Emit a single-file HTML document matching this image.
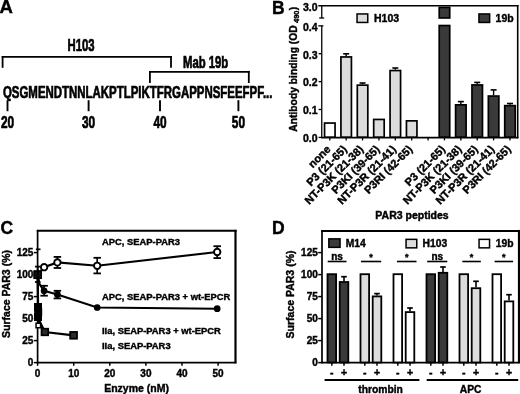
<!DOCTYPE html>
<html><head><meta charset="utf-8"><style>
html,body{margin:0;padding:0;background:#fff;}
svg{display:block;will-change:transform;}
text{font-family:"Liberation Sans",sans-serif;font-weight:bold;fill:#000;stroke:#000;stroke-width:0.4px;}
</style></head><body>
<svg width="520" height="394" viewBox="0 0 520 394">
<rect width="520" height="394" fill="#fff"/>
<text x="-0.6" y="12.6" font-size="18.5" text-anchor="start" >A</text>
<text x="2.95" y="97.6" font-size="16.5" text-anchor="start" textLength="269.5" lengthAdjust="spacingAndGlyphs" style="stroke-width:0.7px">QSGMENDTNNLAKPTLPIKTFRGAPPNSFEEFPF...</text>
<line x1="1.7" y1="56.9" x2="171.9" y2="56.9" stroke="#000" stroke-width="1.8"/>
<line x1="2.6" y1="56.0" x2="2.6" y2="67.8" stroke="#000" stroke-width="1.8"/>
<line x1="171.0" y1="56.0" x2="171.0" y2="67.8" stroke="#000" stroke-width="1.8"/>
<text x="67.6" y="50.9" font-size="16.4" text-anchor="start" textLength="27.0" lengthAdjust="spacingAndGlyphs" style="stroke-width:0.7px">H103</text>
<line x1="149.0" y1="71.8" x2="249.7" y2="71.8" stroke="#000" stroke-width="1.8"/>
<line x1="149.9" y1="70.9" x2="149.9" y2="83.0" stroke="#000" stroke-width="1.8"/>
<line x1="248.8" y1="70.9" x2="248.8" y2="83.0" stroke="#000" stroke-width="1.8"/>
<text x="183.0" y="68.3" font-size="16.4" text-anchor="start" textLength="45.2" lengthAdjust="spacingAndGlyphs" style="stroke-width:0.7px">Mab 19b</text>
<line x1="7.5" y1="100.2" x2="7.5" y2="111.2" stroke="#000" stroke-width="1.9"/>
<text x="7.5" y="128.0" font-size="16.5" text-anchor="middle" textLength="13.2" lengthAdjust="spacingAndGlyphs" style="stroke-width:0.7px">20</text>
<line x1="88.6" y1="100.2" x2="88.6" y2="111.2" stroke="#000" stroke-width="1.9"/>
<text x="88.6" y="128.0" font-size="16.5" text-anchor="middle" textLength="13.2" lengthAdjust="spacingAndGlyphs" style="stroke-width:0.7px">30</text>
<line x1="160.0" y1="100.2" x2="160.0" y2="111.2" stroke="#000" stroke-width="1.9"/>
<text x="160.0" y="128.0" font-size="16.5" text-anchor="middle" textLength="13.2" lengthAdjust="spacingAndGlyphs" style="stroke-width:0.7px">40</text>
<line x1="238.4" y1="100.2" x2="238.4" y2="111.2" stroke="#000" stroke-width="1.9"/>
<text x="238.4" y="128.0" font-size="16.5" text-anchor="middle" textLength="13.2" lengthAdjust="spacingAndGlyphs" style="stroke-width:0.7px">50</text>
<text x="272.0" y="13.8" font-size="17.5" text-anchor="start" >B</text>
<line x1="321.75" y1="5.85" x2="321.75" y2="18.0" stroke="#000" stroke-width="1.3"/>
<line x1="319.2" y1="18.0" x2="324.2" y2="18.0" stroke="#000" stroke-width="1.3"/>
<line x1="318.3" y1="5.75" x2="518.5" y2="5.75" stroke="#000" stroke-width="1.6"/>
<line x1="321.75" y1="25.85" x2="321.75" y2="138.05" stroke="#000" stroke-width="1.3"/>
<line x1="318.3" y1="25.85" x2="323.4" y2="25.85" stroke="#000" stroke-width="1.3"/>
<line x1="517.7" y1="5.0" x2="517.7" y2="138.3" stroke="#000" stroke-width="1.6"/>
<line x1="321.1" y1="137.6" x2="518.35" y2="137.6" stroke="#000" stroke-width="1.6"/>
<line x1="318.6" y1="53.7" x2="321.75" y2="53.7" stroke="#000" stroke-width="1.3"/>
<line x1="318.6" y1="81.6" x2="321.75" y2="81.6" stroke="#000" stroke-width="1.3"/>
<line x1="318.6" y1="109.5" x2="321.75" y2="109.5" stroke="#000" stroke-width="1.3"/>
<line x1="318.6" y1="137.4" x2="321.75" y2="137.4" stroke="#000" stroke-width="1.3"/>
<text x="317.6" y="10.65" font-size="10.5" text-anchor="end" >3.0</text>
<text x="317.6" y="30.65" font-size="10.5" text-anchor="end" >0.4</text>
<text x="317.6" y="58.5" font-size="10.5" text-anchor="end" >0.3</text>
<text x="317.6" y="86.4" font-size="10.5" text-anchor="end" >0.2</text>
<text x="317.6" y="114.3" font-size="10.5" text-anchor="end" >0.1</text>
<text x="317.6" y="142.2" font-size="10.5" text-anchor="end" >0.0</text>
<rect x="324.55" y="123.05" width="10.50" height="14.10" fill="#fff" stroke="#000" stroke-width="1.7"/>
<line x1="346.18" y1="53.8" x2="346.18" y2="56.1" stroke="#000" stroke-width="1.4"/>
<line x1="343.18" y1="53.8" x2="349.18" y2="53.8" stroke="#000" stroke-width="1.6"/>
<rect x="340.93" y="56.95" width="10.50" height="80.20" fill="#dcdcdc" stroke="#000" stroke-width="1.7"/>
<line x1="362.56" y1="83.0" x2="362.56" y2="84.3" stroke="#000" stroke-width="1.4"/>
<line x1="359.56" y1="83.0" x2="365.56" y2="83.0" stroke="#000" stroke-width="1.6"/>
<rect x="357.31" y="85.15" width="10.50" height="52.00" fill="#dcdcdc" stroke="#000" stroke-width="1.7"/>
<rect x="373.69" y="119.45" width="10.50" height="17.70" fill="#dcdcdc" stroke="#000" stroke-width="1.7"/>
<line x1="395.32" y1="68.0" x2="395.32" y2="69.7" stroke="#000" stroke-width="1.4"/>
<line x1="392.32" y1="68.0" x2="398.32" y2="68.0" stroke="#000" stroke-width="1.6"/>
<rect x="390.07" y="70.55" width="10.50" height="66.60" fill="#dcdcdc" stroke="#000" stroke-width="1.7"/>
<rect x="406.45" y="120.85" width="10.50" height="16.30" fill="#dcdcdc" stroke="#000" stroke-width="1.7"/>
<line x1="460.84000000000003" y1="101.6" x2="460.84000000000003" y2="104.0" stroke="#000" stroke-width="1.4"/>
<line x1="457.84000000000003" y1="101.6" x2="463.84000000000003" y2="101.6" stroke="#000" stroke-width="1.6"/>
<rect x="455.59" y="104.85" width="10.50" height="32.30" fill="#3a3a3a" stroke="#000" stroke-width="1.7"/>
<line x1="477.22" y1="82.4" x2="477.22" y2="84.1" stroke="#000" stroke-width="1.4"/>
<line x1="474.22" y1="82.4" x2="480.22" y2="82.4" stroke="#000" stroke-width="1.6"/>
<rect x="471.97" y="84.95" width="10.50" height="52.20" fill="#3a3a3a" stroke="#000" stroke-width="1.7"/>
<line x1="493.6" y1="89.9" x2="493.6" y2="95.2" stroke="#000" stroke-width="1.4"/>
<line x1="490.6" y1="89.9" x2="496.6" y2="89.9" stroke="#000" stroke-width="1.6"/>
<rect x="488.35" y="96.05" width="10.50" height="41.10" fill="#3a3a3a" stroke="#000" stroke-width="1.7"/>
<line x1="509.98" y1="103.5" x2="509.98" y2="104.8" stroke="#000" stroke-width="1.4"/>
<line x1="506.98" y1="103.5" x2="512.98" y2="103.5" stroke="#000" stroke-width="1.6"/>
<rect x="504.73" y="105.65" width="10.50" height="31.50" fill="#3a3a3a" stroke="#000" stroke-width="1.7"/>
<rect x="439.21" y="7.45" width="10.50" height="10.50" fill="#3a3a3a" stroke="#000" stroke-width="1.7"/>
<rect x="439.21" y="25.55" width="10.50" height="111.60" fill="#3a3a3a" stroke="#000" stroke-width="1.7"/>
<line x1="329.8" y1="137.4" x2="329.8" y2="140.4" stroke="#000" stroke-width="1.3"/>
<line x1="346.18" y1="137.4" x2="346.18" y2="140.4" stroke="#000" stroke-width="1.3"/>
<line x1="362.56" y1="137.4" x2="362.56" y2="140.4" stroke="#000" stroke-width="1.3"/>
<line x1="378.94" y1="137.4" x2="378.94" y2="140.4" stroke="#000" stroke-width="1.3"/>
<line x1="395.32" y1="137.4" x2="395.32" y2="140.4" stroke="#000" stroke-width="1.3"/>
<line x1="411.7" y1="137.4" x2="411.7" y2="140.4" stroke="#000" stroke-width="1.3"/>
<line x1="428.08000000000004" y1="137.4" x2="428.08000000000004" y2="140.4" stroke="#000" stroke-width="1.3"/>
<line x1="444.46000000000004" y1="137.4" x2="444.46000000000004" y2="140.4" stroke="#000" stroke-width="1.3"/>
<line x1="460.84000000000003" y1="137.4" x2="460.84000000000003" y2="140.4" stroke="#000" stroke-width="1.3"/>
<line x1="477.22" y1="137.4" x2="477.22" y2="140.4" stroke="#000" stroke-width="1.3"/>
<line x1="493.6" y1="137.4" x2="493.6" y2="140.4" stroke="#000" stroke-width="1.3"/>
<line x1="509.98" y1="137.4" x2="509.98" y2="140.4" stroke="#000" stroke-width="1.3"/>
<rect x="357.05" y="13.95" width="10.70" height="8.50" fill="#dcdcdc" stroke="#000" stroke-width="1.5"/>
<text x="374.0" y="22.0" font-size="10.5" text-anchor="start" >H103</text>
<rect x="478.95" y="13.95" width="10.70" height="8.50" fill="#3a3a3a" stroke="#000" stroke-width="1.5"/>
<text x="495.6" y="22.0" font-size="10.5" text-anchor="start" >19b</text>
<text transform="translate(296.9,131.7) rotate(-90)" font-size="10.3">Antibody binding (OD<tspan font-size="7.5" dx="2.3" dy="1.6">490</tspan><tspan dx="0.3" dy="-1.6">)</tspan></text>
<text transform="translate(331.3,150.0) rotate(-45)" font-size="11" text-anchor="end" >none</text>
<text transform="translate(347.68,150.0) rotate(-45)" font-size="11" text-anchor="end" >P3 (21-65)</text>
<text transform="translate(364.06,150.0) rotate(-45)" font-size="11" text-anchor="end" >NT-P3K (21-38)</text>
<text transform="translate(380.44,150.0) rotate(-45)" font-size="11" text-anchor="end" >P3KI (39-65)</text>
<text transform="translate(396.82,150.0) rotate(-45)" font-size="11" text-anchor="end" >NT-P3R (21-41)</text>
<text transform="translate(413.2,150.0) rotate(-45)" font-size="11" text-anchor="end" >P3RI (42-65)</text>
<text transform="translate(445.96,150.0) rotate(-45)" font-size="11" text-anchor="end" >P3 (21-65)</text>
<text transform="translate(462.34,150.0) rotate(-45)" font-size="11" text-anchor="end" >NT-P3K (21-38)</text>
<text transform="translate(478.72,150.0) rotate(-45)" font-size="11" text-anchor="end" >P3KI (39-65)</text>
<text transform="translate(495.1,150.0) rotate(-45)" font-size="11" text-anchor="end" >NT-P3R (21-41)</text>
<text transform="translate(511.48,150.0) rotate(-45)" font-size="11" text-anchor="end" >P3RI (42-65)</text>
<text x="412.0" y="218.6" font-size="10.5" text-anchor="middle" >PAR3 peptides</text>
<text x="0.4" y="234.3" font-size="17.5" text-anchor="start" >C</text>
<line x1="37.6" y1="229.9" x2="37.6" y2="363.35" stroke="#000" stroke-width="1.7"/>
<line x1="36.800000000000004" y1="230.85" x2="236.6" y2="230.85" stroke="#000" stroke-width="2.0"/>
<line x1="235.5" y1="229.85" x2="235.5" y2="363.35" stroke="#000" stroke-width="2.2"/>
<line x1="36.800000000000004" y1="362.6" x2="236.3" y2="362.6" stroke="#000" stroke-width="1.7"/>
<line x1="33.8" y1="362.6" x2="37.6" y2="362.6" stroke="#000" stroke-width="1.5"/>
<text x="33.4" y="366.3" font-size="10" text-anchor="end" >0</text>
<line x1="33.8" y1="340.6" x2="37.6" y2="340.6" stroke="#000" stroke-width="1.5"/>
<text x="33.4" y="344.3" font-size="10" text-anchor="end" >25</text>
<line x1="33.8" y1="318.6" x2="37.6" y2="318.6" stroke="#000" stroke-width="1.5"/>
<text x="33.4" y="322.3" font-size="10" text-anchor="end" >50</text>
<line x1="33.8" y1="296.6" x2="37.6" y2="296.6" stroke="#000" stroke-width="1.5"/>
<text x="33.4" y="300.3" font-size="10" text-anchor="end" >75</text>
<line x1="33.8" y1="274.6" x2="37.6" y2="274.6" stroke="#000" stroke-width="1.5"/>
<text x="33.4" y="278.3" font-size="10" text-anchor="end" >100</text>
<line x1="33.8" y1="252.60000000000002" x2="37.6" y2="252.60000000000002" stroke="#000" stroke-width="1.5"/>
<text x="33.4" y="256.3" font-size="10" text-anchor="end" >125</text>
<line x1="37.6" y1="362.6" x2="37.6" y2="365.8" stroke="#000" stroke-width="1.5"/>
<text x="37.6" y="376.8" font-size="10" text-anchor="middle" >0</text>
<line x1="73.7" y1="362.6" x2="73.7" y2="365.8" stroke="#000" stroke-width="1.5"/>
<text x="73.7" y="376.8" font-size="10" text-anchor="middle" >10</text>
<line x1="109.80000000000001" y1="362.6" x2="109.80000000000001" y2="365.8" stroke="#000" stroke-width="1.5"/>
<text x="109.80000000000001" y="376.8" font-size="10" text-anchor="middle" >20</text>
<line x1="145.9" y1="362.6" x2="145.9" y2="365.8" stroke="#000" stroke-width="1.5"/>
<text x="145.9" y="376.8" font-size="10" text-anchor="middle" >30</text>
<line x1="182.0" y1="362.6" x2="182.0" y2="365.8" stroke="#000" stroke-width="1.5"/>
<text x="182.0" y="376.8" font-size="10" text-anchor="middle" >40</text>
<line x1="218.1" y1="362.6" x2="218.1" y2="365.8" stroke="#000" stroke-width="1.5"/>
<text x="218.1" y="376.8" font-size="10" text-anchor="middle" >50</text>
<text x="136.6" y="391.8" font-size="10.5" text-anchor="middle" >Enzyme (nM)</text>
<text transform="translate(10.4,294.0) rotate(-90)" font-size="10.5" text-anchor="middle">Surface PAR3 (%)</text>
<text x="102.0" y="245.0" font-size="9.4" text-anchor="start" >APC, SEAP-PAR3</text>
<text x="102.0" y="299.6" font-size="9.4" text-anchor="start" >APC, SEAP-PAR3 + wt-EPCR</text>
<text x="102.0" y="334.4" font-size="9.4" text-anchor="start" >IIa, SEAP-PAR3 + wt-EPCR</text>
<text x="102.0" y="349.2" font-size="9.4" text-anchor="start" >IIa, SEAP-PAR3</text>
<polyline points="37.70,274.50 44.10,267.20 57.40,262.40 97.20,265.80 217.20,252.00" fill="none" stroke="#000" stroke-width="2.1"/>
<line x1="57.4" y1="256.9" x2="57.4" y2="268.0" stroke="#000" stroke-width="1.7"/>
<line x1="53.65" y1="256.9" x2="61.15" y2="256.9" stroke="#000" stroke-width="1.8"/>
<line x1="53.65" y1="268.0" x2="61.15" y2="268.0" stroke="#000" stroke-width="1.8"/>
<line x1="97.2" y1="257.8" x2="97.2" y2="273.4" stroke="#000" stroke-width="1.7"/>
<line x1="93.45" y1="257.8" x2="100.95" y2="257.8" stroke="#000" stroke-width="1.8"/>
<line x1="93.45" y1="273.4" x2="100.95" y2="273.4" stroke="#000" stroke-width="1.8"/>
<line x1="217.2" y1="246.2" x2="217.2" y2="258.1" stroke="#000" stroke-width="1.7"/>
<line x1="213.45" y1="246.2" x2="220.95" y2="246.2" stroke="#000" stroke-width="1.8"/>
<line x1="213.45" y1="258.1" x2="220.95" y2="258.1" stroke="#000" stroke-width="1.8"/>
<polyline points="37.70,274.50 39.50,284.00 44.10,290.80 57.40,294.40 97.20,307.50 217.20,308.70" fill="none" stroke="#000" stroke-width="2.1"/>
<line x1="44.1" y1="285.8" x2="44.1" y2="295.7" stroke="#000" stroke-width="1.7"/>
<line x1="40.35" y1="285.8" x2="47.85" y2="285.8" stroke="#000" stroke-width="1.8"/>
<line x1="40.35" y1="295.7" x2="47.85" y2="295.7" stroke="#000" stroke-width="1.8"/>
<line x1="57.4" y1="290.8" x2="57.4" y2="298.4" stroke="#000" stroke-width="1.7"/>
<line x1="53.65" y1="290.8" x2="61.15" y2="290.8" stroke="#000" stroke-width="1.8"/>
<line x1="53.65" y1="298.4" x2="61.15" y2="298.4" stroke="#000" stroke-width="1.8"/>
<polyline points="37.70,274.50 38.00,300.00 38.00,318.00 44.90,332.00 73.60,335.30" fill="none" stroke="#000" stroke-width="2.2"/>
<polyline points="37.70,274.50 38.20,324.50 44.90,331.50" fill="none" stroke="#000" stroke-width="1.8"/>
<rect x="34.45" y="271.25" width="6.5" height="6.5" fill="#000" stroke="#000" stroke-width="1.5"/>
<rect x="34.75" y="303.75" width="6.5" height="6.5" fill="#000" stroke="#000" stroke-width="1.5"/>
<rect x="34.95" y="308.75" width="6.5" height="6.5" fill="#000" stroke="#000" stroke-width="1.5"/>
<rect x="34.75" y="313.75" width="6.5" height="6.5" fill="#000" stroke="#000" stroke-width="1.5"/>
<rect x="41.65" y="328.75" width="6.5" height="6.5" fill="#000" stroke="#000" stroke-width="1.5"/>
<rect x="70.35" y="332.05" width="6.5" height="6.5" fill="#000" stroke="#000" stroke-width="1.5"/>
<rect x="36.05" y="323.25" width="4.5" height="4.5" fill="#fff" stroke="#000" stroke-width="1.5"/>
<rect x="41.60" y="328.70" width="6.6" height="6.6" fill="#2a2a2a" stroke="#000" stroke-width="1.7"/>
<rect x="70.30" y="332.00" width="6.6" height="6.6" fill="#2a2a2a" stroke="#000" stroke-width="1.7"/>
<circle cx="44.10" cy="267.20" r="3.2" fill="#fff" stroke="#000" stroke-width="1.9"/>
<circle cx="57.40" cy="262.40" r="3.2" fill="#fff" stroke="#000" stroke-width="1.9"/>
<circle cx="97.20" cy="265.80" r="3.2" fill="#fff" stroke="#000" stroke-width="1.9"/>
<circle cx="217.20" cy="252.00" r="3.2" fill="#fff" stroke="#000" stroke-width="1.9"/>
<circle cx="44.10" cy="290.80" r="2.7" fill="#000" stroke="#000" stroke-width="1.3"/>
<circle cx="57.40" cy="294.40" r="2.7" fill="#000" stroke="#000" stroke-width="1.3"/>
<circle cx="97.20" cy="307.50" r="2.7" fill="#000" stroke="#000" stroke-width="1.3"/>
<circle cx="217.20" cy="308.70" r="2.7" fill="#000" stroke="#000" stroke-width="1.3"/>
<circle cx="37.70" cy="274.50" r="3.2" fill="#000" stroke="#000" stroke-width="1.5"/>
<rect x="34.10" y="271.10" width="7.2" height="7.2" fill="#111" stroke="#000" stroke-width="1.5"/>
<line x1="37.7" y1="266.6" x2="37.7" y2="282.0" stroke="#000" stroke-width="1.7"/>
<line x1="34.95" y1="266.6" x2="40.45" y2="266.6" stroke="#000" stroke-width="1.8"/>
<line x1="34.95" y1="282.0" x2="40.45" y2="282.0" stroke="#000" stroke-width="1.8"/>
<line x1="35.9" y1="249.3" x2="40.5" y2="249.3" stroke="#000" stroke-width="1.7"/>
<text x="272.0" y="233.6" font-size="17.5" text-anchor="start" >D</text>
<line x1="322.0" y1="229.9" x2="322.0" y2="363.35" stroke="#000" stroke-width="1.7"/>
<line x1="321.2" y1="230.9" x2="520" y2="230.9" stroke="#000" stroke-width="2.0"/>
<line x1="519.0" y1="229.9" x2="519.0" y2="363.35" stroke="#000" stroke-width="2.2"/>
<line x1="321.2" y1="362.6" x2="519.5" y2="362.6" stroke="#000" stroke-width="1.6"/>
<line x1="318.2" y1="362.6" x2="322.0" y2="362.6" stroke="#000" stroke-width="1.5"/>
<text x="317.8" y="366.3" font-size="10" text-anchor="end" >0</text>
<line x1="318.2" y1="340.6" x2="322.0" y2="340.6" stroke="#000" stroke-width="1.5"/>
<text x="317.8" y="344.3" font-size="10" text-anchor="end" >25</text>
<line x1="318.2" y1="318.6" x2="322.0" y2="318.6" stroke="#000" stroke-width="1.5"/>
<text x="317.8" y="322.3" font-size="10" text-anchor="end" >50</text>
<line x1="318.2" y1="296.6" x2="322.0" y2="296.6" stroke="#000" stroke-width="1.5"/>
<text x="317.8" y="300.3" font-size="10" text-anchor="end" >75</text>
<line x1="318.2" y1="274.6" x2="322.0" y2="274.6" stroke="#000" stroke-width="1.5"/>
<text x="317.8" y="278.3" font-size="10" text-anchor="end" >100</text>
<line x1="318.2" y1="252.60000000000002" x2="322.0" y2="252.60000000000002" stroke="#000" stroke-width="1.5"/>
<text x="317.8" y="256.3" font-size="10" text-anchor="end" >125</text>
<text transform="translate(293.9,294.5) rotate(-90)" font-size="10.5" text-anchor="middle">Surface PAR3 (%)</text>
<rect x="328.85" y="238.85" width="11.20" height="8.50" fill="#3a3a3a" stroke="#000" stroke-width="1.5"/>
<text x="345.8" y="246.8" font-size="10.3" text-anchor="start" >M14</text>
<rect x="406.05" y="239.35" width="10.70" height="8.50" fill="#dcdcdc" stroke="#000" stroke-width="1.5"/>
<text x="422.6" y="246.8" font-size="10.3" text-anchor="start" >H103</text>
<rect x="479.05" y="239.35" width="10.50" height="8.50" fill="#fff" stroke="#000" stroke-width="1.5"/>
<text x="495.8" y="246.8" font-size="10.3" text-anchor="start" >19b</text>
<line x1="327.7" y1="261.5" x2="346.5" y2="261.5" stroke="#000" stroke-width="1.6"/>
<text x="337.1" y="260.0" font-size="10" text-anchor="middle" >ns</text>
<line x1="361" y1="261.5" x2="381.2" y2="261.5" stroke="#000" stroke-width="1.6"/>
<text x="371.1" y="260.2" font-size="9" text-anchor="middle" >*</text>
<line x1="397" y1="261.5" x2="416.5" y2="261.5" stroke="#000" stroke-width="1.6"/>
<text x="406.75" y="260.2" font-size="9" text-anchor="middle" >*</text>
<line x1="427.2" y1="261.5" x2="447.3" y2="261.5" stroke="#000" stroke-width="1.6"/>
<text x="437.25" y="260.0" font-size="10" text-anchor="middle" >ns</text>
<line x1="462.3" y1="261.5" x2="480.8" y2="261.5" stroke="#000" stroke-width="1.6"/>
<text x="471.55" y="260.2" font-size="9" text-anchor="middle" >*</text>
<line x1="494.6" y1="261.5" x2="513.1" y2="261.5" stroke="#000" stroke-width="1.6"/>
<text x="503.85" y="260.2" font-size="9" text-anchor="middle" >*</text>
<rect x="327.50" y="274.20" width="8.60" height="88.25" fill="#3a3a3a" stroke="#000" stroke-width="1.8"/>
<line x1="344.0" y1="276.7" x2="344.0" y2="281.1" stroke="#000" stroke-width="1.6"/>
<line x1="341.2" y1="276.7" x2="346.8" y2="276.7" stroke="#000" stroke-width="1.7"/>
<rect x="339.70" y="282.00" width="8.60" height="80.45" fill="#3a3a3a" stroke="#000" stroke-width="1.8"/>
<line x1="331.8" y1="362.6" x2="331.8" y2="365.8" stroke="#000" stroke-width="1.5"/>
<text x="331.8" y="375.8" font-size="10.5" text-anchor="middle" >-</text>
<line x1="344.0" y1="362.6" x2="344.0" y2="365.8" stroke="#000" stroke-width="1.5"/>
<text x="344.0" y="375.8" font-size="10.5" text-anchor="middle" >+</text>
<rect x="360.50" y="274.20" width="8.60" height="88.25" fill="#dcdcdc" stroke="#000" stroke-width="1.8"/>
<line x1="377.0" y1="293.6" x2="377.0" y2="295.5" stroke="#000" stroke-width="1.6"/>
<line x1="374.2" y1="293.6" x2="379.8" y2="293.6" stroke="#000" stroke-width="1.7"/>
<rect x="372.70" y="296.40" width="8.60" height="66.05" fill="#dcdcdc" stroke="#000" stroke-width="1.8"/>
<line x1="364.8" y1="362.6" x2="364.8" y2="365.8" stroke="#000" stroke-width="1.5"/>
<text x="364.8" y="375.8" font-size="10.5" text-anchor="middle" >-</text>
<line x1="377.0" y1="362.6" x2="377.0" y2="365.8" stroke="#000" stroke-width="1.5"/>
<text x="377.0" y="375.8" font-size="10.5" text-anchor="middle" >+</text>
<rect x="393.50" y="274.20" width="8.60" height="88.25" fill="#fff" stroke="#000" stroke-width="1.8"/>
<line x1="410.0" y1="308.0" x2="410.0" y2="311.2" stroke="#000" stroke-width="1.6"/>
<line x1="407.2" y1="308.0" x2="412.8" y2="308.0" stroke="#000" stroke-width="1.7"/>
<rect x="405.70" y="312.10" width="8.60" height="50.35" fill="#fff" stroke="#000" stroke-width="1.8"/>
<line x1="397.8" y1="362.6" x2="397.8" y2="365.8" stroke="#000" stroke-width="1.5"/>
<text x="397.8" y="375.8" font-size="10.5" text-anchor="middle" >-</text>
<line x1="410.0" y1="362.6" x2="410.0" y2="365.8" stroke="#000" stroke-width="1.5"/>
<text x="410.0" y="375.8" font-size="10.5" text-anchor="middle" >+</text>
<rect x="426.50" y="274.20" width="8.60" height="88.25" fill="#3a3a3a" stroke="#000" stroke-width="1.8"/>
<line x1="443.0" y1="267.0" x2="443.0" y2="271.9" stroke="#000" stroke-width="1.6"/>
<line x1="440.2" y1="267.0" x2="445.8" y2="267.0" stroke="#000" stroke-width="1.7"/>
<rect x="438.70" y="272.80" width="8.60" height="89.65" fill="#3a3a3a" stroke="#000" stroke-width="1.8"/>
<line x1="430.8" y1="362.6" x2="430.8" y2="365.8" stroke="#000" stroke-width="1.5"/>
<text x="430.8" y="375.8" font-size="10.5" text-anchor="middle" >-</text>
<line x1="443.0" y1="362.6" x2="443.0" y2="365.8" stroke="#000" stroke-width="1.5"/>
<text x="443.0" y="375.8" font-size="10.5" text-anchor="middle" >+</text>
<rect x="459.50" y="274.20" width="8.60" height="88.25" fill="#dcdcdc" stroke="#000" stroke-width="1.8"/>
<line x1="476.0" y1="281.3" x2="476.0" y2="287.3" stroke="#000" stroke-width="1.6"/>
<line x1="473.2" y1="281.3" x2="478.8" y2="281.3" stroke="#000" stroke-width="1.7"/>
<rect x="471.70" y="288.20" width="8.60" height="74.25" fill="#dcdcdc" stroke="#000" stroke-width="1.8"/>
<line x1="463.8" y1="362.6" x2="463.8" y2="365.8" stroke="#000" stroke-width="1.5"/>
<text x="463.8" y="375.8" font-size="10.5" text-anchor="middle" >-</text>
<line x1="476.0" y1="362.6" x2="476.0" y2="365.8" stroke="#000" stroke-width="1.5"/>
<text x="476.0" y="375.8" font-size="10.5" text-anchor="middle" >+</text>
<rect x="492.50" y="274.20" width="8.60" height="88.25" fill="#fff" stroke="#000" stroke-width="1.8"/>
<line x1="509.0" y1="294.7" x2="509.0" y2="300.5" stroke="#000" stroke-width="1.6"/>
<line x1="506.2" y1="294.7" x2="511.8" y2="294.7" stroke="#000" stroke-width="1.7"/>
<rect x="504.70" y="301.40" width="8.60" height="61.05" fill="#fff" stroke="#000" stroke-width="1.8"/>
<line x1="496.8" y1="362.6" x2="496.8" y2="365.8" stroke="#000" stroke-width="1.5"/>
<text x="496.8" y="375.8" font-size="10.5" text-anchor="middle" >-</text>
<line x1="509.0" y1="362.6" x2="509.0" y2="365.8" stroke="#000" stroke-width="1.5"/>
<text x="509.0" y="375.8" font-size="10.5" text-anchor="middle" >+</text>
<line x1="324.6" y1="380.0" x2="419.4" y2="380.0" stroke="#000" stroke-width="1.8"/>
<line x1="426.7" y1="380.0" x2="518.2" y2="380.0" stroke="#000" stroke-width="1.8"/>
<text x="380.6" y="392.9" font-size="10.3" text-anchor="middle" >thrombin</text>
<text x="470.7" y="392.9" font-size="10.3" text-anchor="middle" >APC</text>
</svg>
</body></html>
